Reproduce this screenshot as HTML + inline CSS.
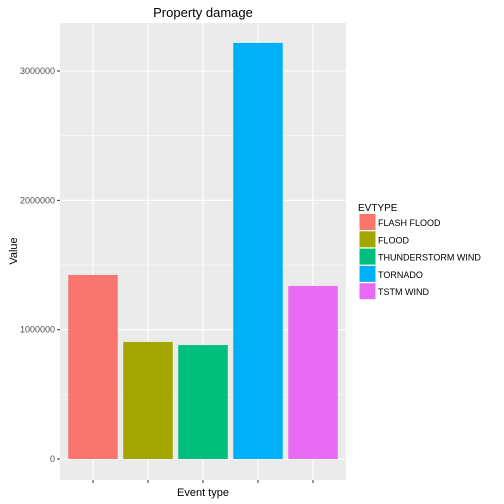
<!DOCTYPE html>
<html><head><meta charset="utf-8"><style>
body{margin:0;background:#fff;}
svg{display:block;font-family:"Liberation Sans",sans-serif;}
</style></head><body>
<svg id="chart" width="504" height="504" xmlns="http://www.w3.org/2000/svg">
<rect width="504" height="504" fill="#fff"/>
<rect x="60" y="23" width="286" height="457" fill="#EBEBEB"/>
<g id="grid"></g><g id="bars"></g><g id="axes"></g><g id="legend"></g>
<text x="203" y="17" font-size="13" text-anchor="middle" fill="#000">Property damage</text>
<text x="203" y="496" font-size="11" text-anchor="middle" fill="#000">Event type</text>
<text x="17" y="251" font-size="11" text-anchor="middle" fill="#000" transform="rotate(-90 17 251)">Value</text>
</svg>
<script>
const categories=["FLASH FLOOD","FLOOD","THUNDERSTORM WIND","TORNADO","TSTM WIND"];
const values=[1423000,905000,881000,3217000,1338000];
const colors=["#F8766D","#A3A500","#00BF7D","#00B0F6","#E76BF3"];
const yTicks=[0,1000000,2000000,3000000];
const yTickLabels=["0","1000000","2000000","3000000"];
const NS="http://www.w3.org/2000/svg";
const y0=459, pxPer=129.33/1e6;
function y(v){return y0-v*pxPer;}
function x(i){return 60+(i+0.6)*55;}
function mk(t,a,p){const e=document.createElementNS(NS,t);for(const k in a)e.setAttribute(k,a[k]);p.appendChild(e);return e;}
const grid=document.getElementById('grid'),bars=document.getElementById('bars'),axes=document.getElementById('axes'),leg=document.getElementById('legend');
for(let k=0;k<yTicks.length;k++){
  const mv=yTicks[k]+500000;
  if(y(mv)>23){const m=mk('line',{x1:60,x2:346,y1:y(mv),y2:y(mv),stroke:'#fff','stroke-width':0.5},grid);
  
  }
  const g=mk('line',{x1:60,x2:346,y1:y(yTicks[k]),y2:y(yTicks[k]),stroke:'#fff','stroke-width':1.1},grid);
  
  
  const t=mk('line',{x1:57,x2:60,y1:y(yTicks[k]),y2:y(yTicks[k]),stroke:'#333'},axes);
  
  
  const l=mk('text',{x:55,y:y(yTicks[k])+3,'font-size':9,'text-anchor':'end',fill:'#4D4D4D'},axes);
  l.textContent=yTickLabels[k];
  
  
}
categories.forEach((c,i)=>{
  const g=mk('line',{x1:x(i),x2:x(i),y1:23,y2:480,stroke:'#fff','stroke-width':1.1},grid);
  
  
  const b=mk('rect',{x:x(i)-24.75,y:y(values[i]),width:49.5,height:y(0)-y(values[i]),fill:colors[i]},bars);
  
  
  const t=mk('line',{x1:x(i),x2:x(i),y1:480,y2:483,stroke:'#333'},axes);
  
  
  const k=mk('rect',{x:359.5,y:214+i*17.3,width:16,height:16,fill:colors[i]},leg);
  
  
  const lt=mk('text',{x:378,y:226+i*17.3,'font-size':9,fill:'#000'},leg);
  lt.textContent=c;
  
  
});
const lt=mk('text',{x:358,y:211,'font-size':10,fill:'#000'},leg);
lt.textContent='EVTYPE';


</script>
</body></html>
